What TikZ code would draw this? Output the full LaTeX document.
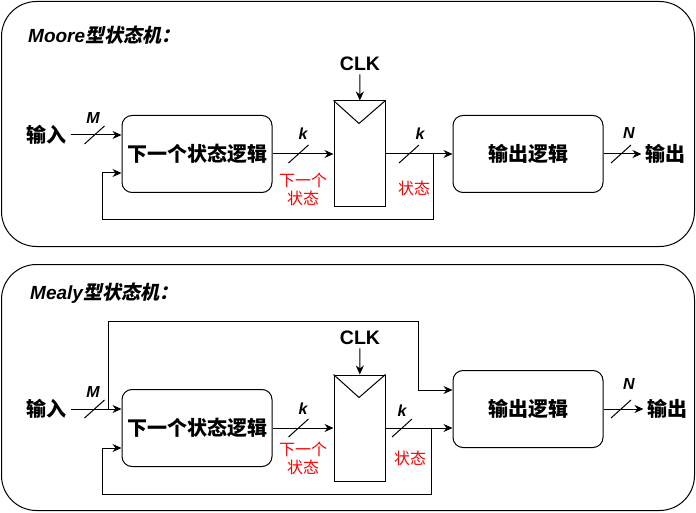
\documentclass[tikz,border=0pt]{standalone}
\usepackage{fontspec}
\setmainfont{Noto Sans CJK SC}
\newfontfamily\latin{Liberation Sans}
\newfontfamily\cjkslant{Noto Sans CJK SC}[FakeSlant=0.2]
\usetikzlibrary{arrows.meta}

\begin{document}
\begin{tikzpicture}[
    x=1pt, y=-1pt,
    panel/.style={draw, line width=1pt, rounded corners=35pt},
    box/.style={draw, line width=1pt, rounded corners=10pt, minimum width=150pt, minimum height=77pt, font=\fontsize{20}{24}\selectfont\bfseries},
    reg/.style={draw, line width=1pt, minimum width=51pt, minimum height=106pt},
    lbl/.style={font=\fontsize{20}{24}\selectfont\bfseries},
    clk/.style={font=\fontsize{19.5}{22}\selectfont\latin\bfseries},
    bus/.style={font=\fontsize{16}{18}\selectfont\latin\bfseries\itshape},
    note/.style={text=red, align=center, font=\fontsize{16}{18}\selectfont},
    title/.style={anchor=west, inner sep=0pt, font=\fontsize{19}{22}\selectfont\bfseries},
    arrow/.style={-{Stealth[length=9pt,width=8pt]}, line width=1pt},
    slash/.style={line width=1pt}
]
    \useasboundingbox (0,0) rectangle (696,513);

    % Moore
    \draw[panel] (1.5,1.5) rectangle (694.5,246.5);
    \node[title] (ttl1) at (28,35) {{\latin\itshape Moore}{\cjkslant 型状态机：}};

    \node[lbl] (in1) at (47,135) {输入};
    \node[box] (nsl1) at (197,154) {下一个状态逻辑};
    \node[reg] (reg1) at (359.5,154) {};
    \node[clk] (clk1) at (360,64) {CLK};
    \node[box] (ol1) at (528,154) {输出逻辑};
    \node[lbl] (out1) at (665,154) {输出};

    \draw[line width=1pt] (reg1.north west) -- ++(25.5,23) -- (reg1.north east);
    \draw[arrow] (clk1) -- (reg1);

    \draw[arrow] (in1) -- (in1 -| nsl1.west);
    \draw[arrow] (nsl1.east) -- (reg1.west);
    \draw[arrow] (reg1.east) -- (ol1.west);
    \draw[arrow] (ol1.east) -- (out1);

    % Rueckkopplung
    \coordinate (fb1) at (433,154);
    \coordinate (fbl1) at (102,220);
    \coordinate (fbin1) at ([yshift=-19pt]nsl1.west);
    \draw[arrow] (fb1) |- (fbl1) |- (fbin1);

    % Busbreiten
    \draw[slash] (94.5,135) ++(-10,9) -- ++(20,-18);
    \draw[slash] (298.5,154) ++(-10,9) -- ++(20,-18);
    \draw[slash] (409,154) ++(-10,9) -- ++(20,-18);
    \draw[slash] (621,154) ++(-10,9) -- ++(20,-18);
    \node[bus] (m1) at (93,118) {M};
    \node[bus] (k1) at (303,134) {k};
    \node[bus] (ks1) at (420,134) {k};
    \node[bus] (n1) at (629,133) {N};
    \node[note] (ns1) at (303,189) {下一个\\状态};
    \node[note] (st1) at (414,188) {状态};

    % Mealy
    \draw[panel] (1.5,264.5) rectangle (694.5,510.5);
    \node[title] (ttl2) at (30,293) {{\latin\itshape Mealy}{\cjkslant 型状态机：}};

    \node[lbl] (in2) at (47,409) {输入};
    \node[box] (nsl2) at (197,428) {下一个状态逻辑};
    \node[reg] (reg2) at (359.5,428) {};
    \node[clk] (clk2) at (360,338) {CLK};
    \node[box] (ol2) at (528,409) {输出逻辑};
    \node[lbl] (out2) at (667,409) {输出};

    \draw[line width=1pt] (reg2.north west) -- ++(25.5,23) -- (reg2.north east);
    \draw[arrow] (clk2) -- (reg2);

    \draw[arrow] (in2) -- (in2 -| nsl2.west);
    \draw[arrow] (nsl2.east) -- (reg2.west);
    \draw[arrow] (reg2.east) -- ([yshift=-19pt]ol2.west);
    \draw[arrow] (ol2.east) -- (out2);

    % Eingang direkt zur Ausgangslogik
    \coordinate (br2) at (108,409);
    \coordinate (up2) at (418,321);
    \draw[arrow] (br2) |- (up2) |- ([yshift=19pt]ol2.west);

    % Rueckkopplung
    \coordinate (fb2) at (431,428);
    \coordinate (fbl2) at (102,494);
    \coordinate (fbin2) at ([yshift=-20pt]nsl2.west);
    \draw[arrow] (fb2) |- (fbl2) |- (fbin2);

    % Busbreiten
    \draw[slash] (94.5,409) ++(-10,9) -- ++(20,-18);
    \draw[slash] (298.5,428) ++(-10,9) -- ++(20,-18);
    \draw[slash] (402,428) ++(-10,9) -- ++(20,-18);
    \draw[slash] (621,409) ++(-10,9) -- ++(20,-18);
    \node[bus] (m2) at (93,392) {M};
    \node[bus] (k2) at (303,409) {k};
    \node[bus] (ks2) at (402,411) {k};
    \node[bus] (n2) at (629,384) {N};
    \node[note] (ns2) at (303,458) {下一个\\状态};
    \node[note] (st2) at (410,458) {状态};
\end{tikzpicture}
\end{document}
